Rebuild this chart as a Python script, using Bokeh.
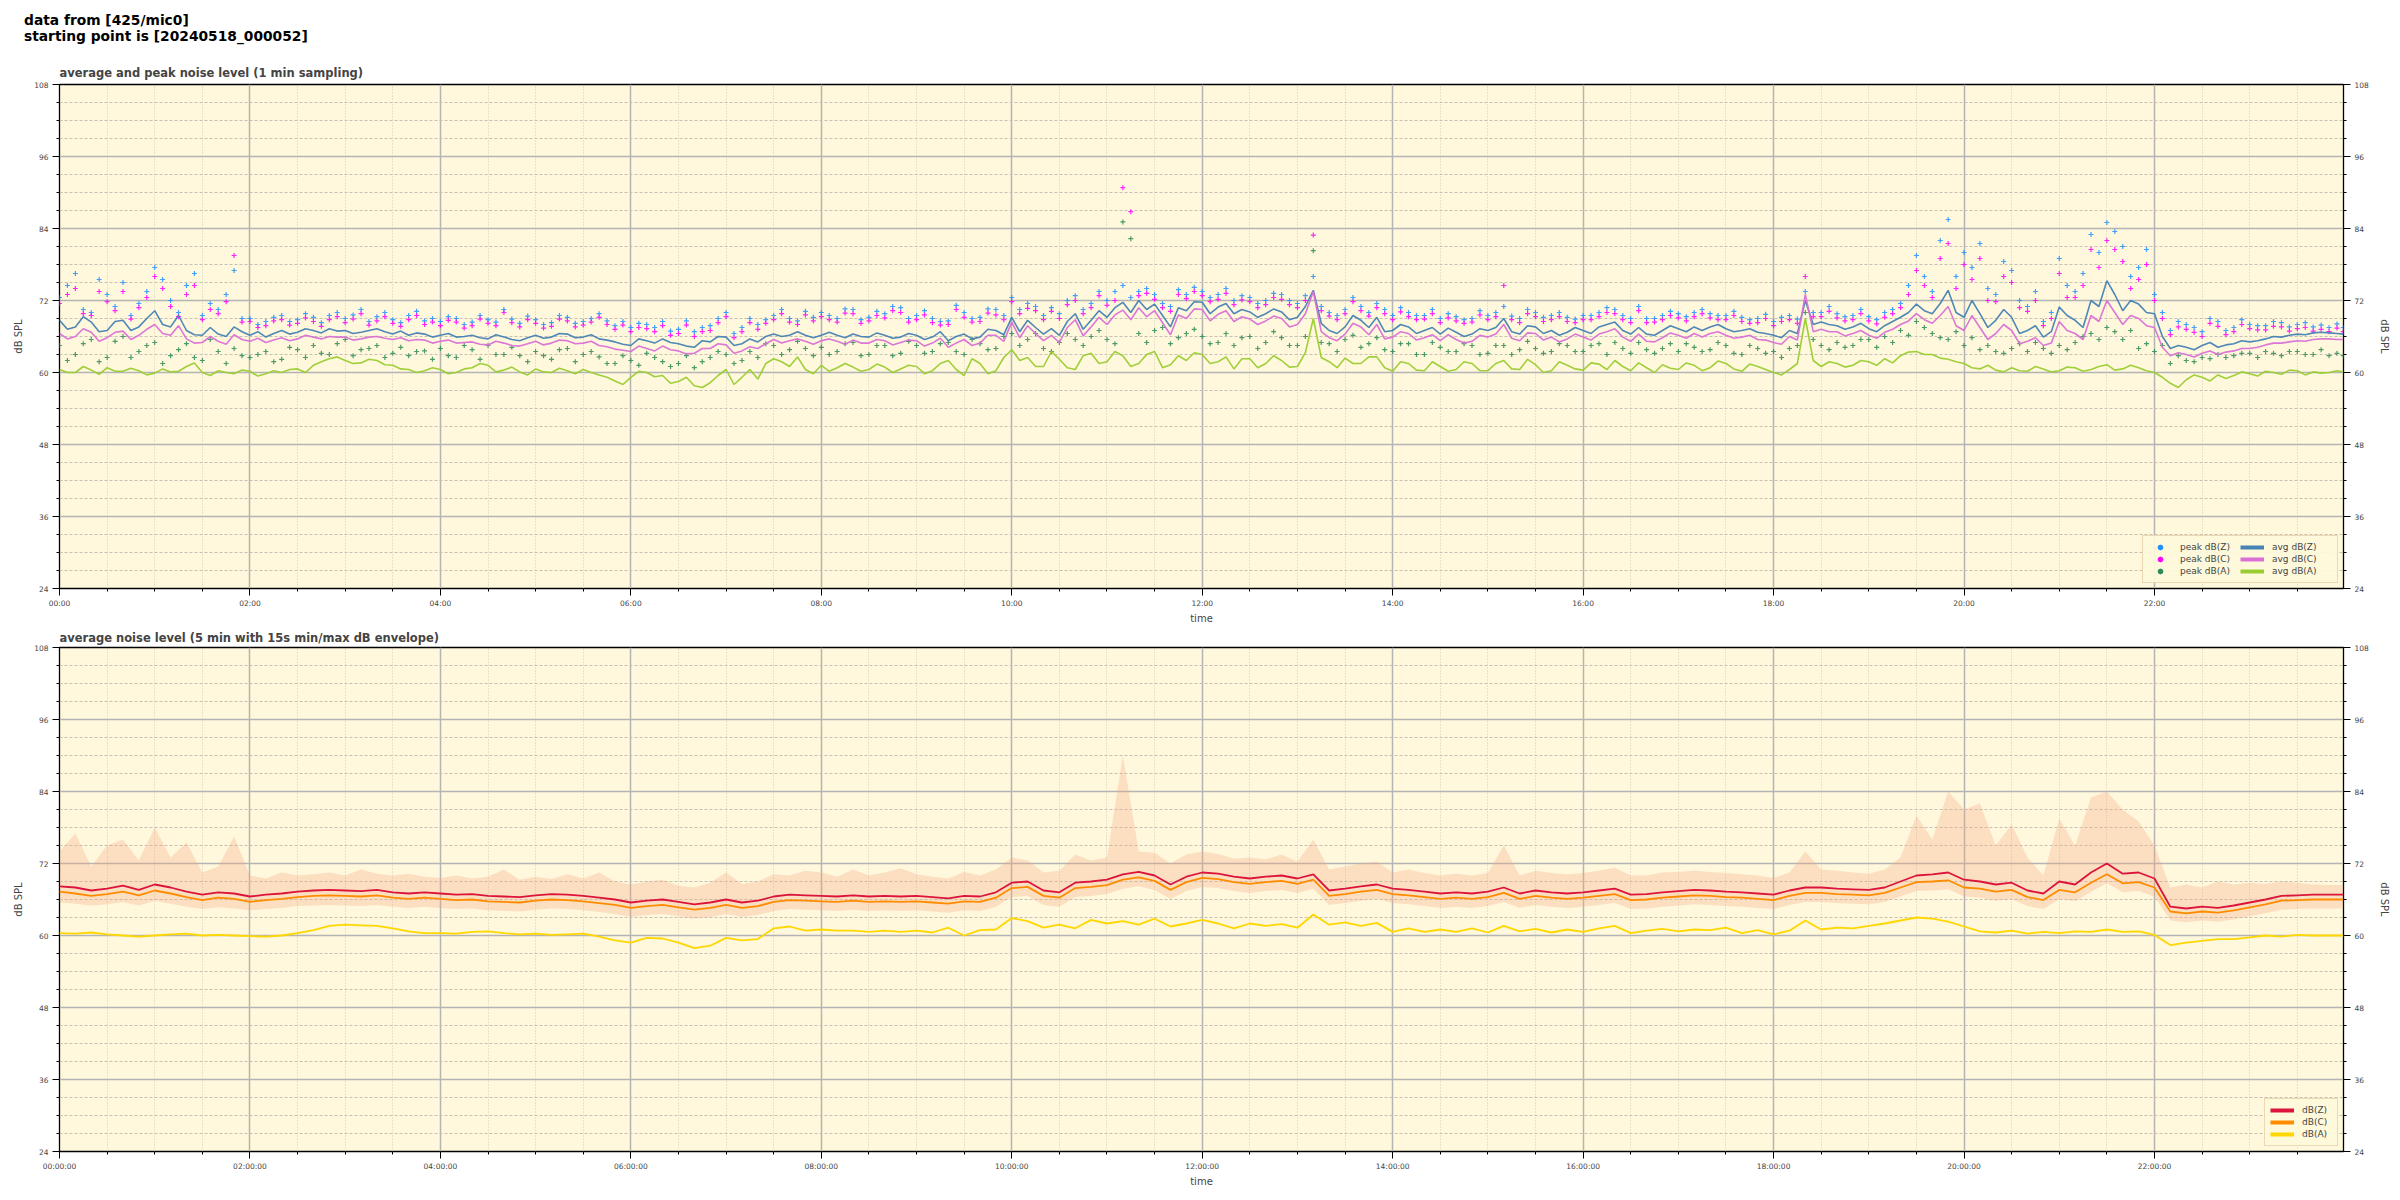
from bokeh.plotting import figure
from bokeh.layouts import column
from bokeh.models import (Range1d, FixedTicker, LinearAxis, Legend, LegendItem, Div)
from bokeh.embed import file_html
from bokeh.resources import INLINE

# ---- time base (minutes after 00:00): readings on the 10-min marks and on the 5-min offsets ----
minutes = list(range(0, 1440, 10)) + [1439]
mid_minutes = list(range(5, 1440, 10))
hours = [m / 60.0 for m in minutes]
mid_hours = [m / 60.0 for m in mid_minutes]

# ---- top panel: 1 min sampling (values read at the 10-min marks) ----
avg_z = [68.7, 67.6, 68.4, 67.0, 68.7, 67.6,
         70.3, 67.6, 67.0, 66.2, 66.4, 67.6,
         66.2, 65.9, 67.0, 66.7, 67.0, 67.3,
         67.0, 66.7, 67.3, 66.4, 66.2, 66.4,
         66.2, 65.9, 66.2, 65.6, 65.9, 65.3,
         66.2, 65.9, 66.4, 65.9, 65.6, 65.1,
         64.5, 65.3, 65.6, 64.8, 64.2, 65.1,
         65.9, 64.8, 65.1, 66.4, 66.2, 66.2,
         66.2, 66.2, 66.4, 65.9, 66.2, 65.9,
         66.2, 65.9, 65.3, 66.4, 65.9, 67.0,
         69.2, 68.7, 66.4, 66.2, 69.8, 68.7,
         69.2, 71.7, 72.0, 71.4, 67.6, 70.3,
         71.7, 70.9, 69.8, 70.1, 69.8, 70.1,
         69.2, 73.7, 67.0, 67.6, 68.7, 69.2,
         67.0, 67.6, 67.0, 66.4, 66.7, 66.4,
         67.0, 69.0, 66.4, 67.6, 67.0, 66.7,
         67.0, 67.6, 68.4, 66.4, 66.4, 67.0,
         67.3, 67.6, 67.6, 67.3, 67.0, 66.7,
         66.2, 67.0, 72.0, 68.4, 67.8, 67.6,
         67.3, 67.8, 69.2, 71.4, 69.8, 73.7,
         69.2, 69.8, 68.7, 69.2, 67.0, 65.9,
         70.9, 68.7, 72.0, 75.3, 70.3, 71.4,
         69.8, 64.0, 64.2, 64.5, 64.2, 64.8,
         65.1, 65.6, 65.9, 66.4, 66.6, 66.6,
         66.4]

avg_c = [66.5, 66.0, 66.7, 65.8, 66.9, 66.2,
         68.0, 66.2, 65.6, 65.0, 65.2, 66.3,
         65.2, 65.0, 65.8, 65.6, 65.9, 66.0,
         65.9, 65.6, 66.0, 65.5, 65.3, 65.4,
         65.2, 64.9, 65.1, 64.6, 64.9, 64.4,
         65.2, 64.9, 65.3, 64.9, 64.5, 63.9,
         63.5, 64.0, 64.4, 63.6, 63.2, 64.0,
         64.6, 63.6, 64.0, 65.5, 65.3, 65.2,
         65.3, 65.2, 65.4, 64.9, 65.3, 65.0,
         65.3, 64.9, 64.2, 65.5, 64.9, 66.2,
         68.4, 67.8, 65.3, 65.0, 68.8, 67.6,
         68.0, 70.4, 70.8, 70.3, 66.3, 69.0,
         70.5, 69.7, 68.5, 68.9, 68.6, 69.0,
         68.0, 73.5, 65.8, 66.4, 67.6, 68.0,
         65.9, 66.5, 65.8, 65.3, 65.5, 65.2,
         65.9, 68.0, 65.3, 66.5, 65.9, 65.6,
         65.9, 66.4, 67.3, 65.2, 65.2, 65.8,
         66.2, 66.5, 66.5, 66.2, 65.9, 65.5,
         65.0, 66.0, 73.0, 67.2, 66.8, 66.5,
         66.2, 66.7, 68.0, 69.8, 68.2, 71.0,
         67.0, 67.5, 66.5, 67.0, 65.2, 64.5,
         68.5, 66.5, 69.5, 72.0, 68.0, 69.0,
         67.5, 62.8, 63.0, 63.2, 63.0, 63.6,
         64.0, 64.6, 64.9, 65.3, 65.5, 65.6,
         65.5]

avg_a = [60.5, 60.0, 60.4, 60.8, 60.2, 60.3,
         59.9, 60.1, 61.0, 60.0, 60.3, 59.8,
         60.2, 59.8, 60.0, 60.6, 61.2, 62.3,
         62.0, 61.6, 62.0, 61.2, 60.5, 60.3,
         60.5, 60.0, 60.8, 61.2, 60.4, 60.1,
         60.6, 60.0, 60.3, 60.5, 59.6, 58.6,
         59.2, 60.0, 59.5, 58.5, 57.8, 58.3,
         60.5, 59.2, 58.9, 62.3, 61.0, 60.5,
         61.2, 60.8, 60.9, 60.5, 60.9, 60.6,
         61.0, 60.3, 62.0, 59.5, 61.5, 60.3,
         63.8, 62.5, 61.0, 62.2, 60.5, 63.2,
         61.8, 62.8, 61.5, 63.5, 61.3, 62.0,
         63.0, 61.8, 60.6, 62.3, 61.5, 62.0,
         61.0, 69.0, 61.8, 62.4, 61.5, 62.6,
         60.2, 61.5, 60.3, 61.0, 60.5, 61.5,
         60.3, 62.0, 60.5, 61.3, 60.3, 61.2,
         60.4, 61.4, 62.0, 60.3, 60.8, 61.3,
         60.5, 61.2, 60.8, 61.5, 60.2, 61.0,
         60.0, 60.5, 69.0, 61.0, 61.5, 61.2,
         61.8, 62.3, 62.8, 63.5, 63.0, 62.2,
         61.5, 60.6, 60.4, 60.8, 60.2, 60.6,
         60.3, 60.8, 60.5, 61.3, 60.6, 60.8,
         60.0, 58.2, 58.8, 59.2, 59.6, 59.5,
         59.8, 60.2, 59.7, 60.3, 60.1, 60.0,
         60.1]

peak_z = [72.5, 76.5, 70.0, 73.0, 75.0, 71.5,
          77.5, 72.0, 74.5, 69.5, 70.5, 77.0,
          69.0, 68.5, 69.5, 68.8, 69.2, 69.5,
          69.0, 70.5, 69.3, 68.8, 69.5, 68.6,
          68.5, 69.0, 68.4, 68.8, 70.5, 68.2,
          68.8, 68.3, 69.2, 68.5, 69.8, 67.8,
          67.5, 68.0, 68.5, 67.2, 66.8, 67.8,
          70.0, 67.5, 68.0, 69.5, 69.0, 70.2,
          70.0, 69.0, 70.5, 69.2, 69.8, 70.8,
          69.5, 69.0, 68.6, 70.0, 69.2, 70.5,
          72.5, 71.5, 69.5, 69.8, 72.8, 71.5,
          72.0, 74.5, 73.5, 73.0, 71.0, 73.0,
          73.5, 73.0, 72.0, 72.5, 72.0, 73.0,
          71.5, 76.0, 70.0, 70.5, 71.0, 71.5,
          69.5, 70.0, 69.5, 69.0, 69.3, 69.0,
          69.5, 71.0, 69.0, 70.0, 69.5, 69.2,
          69.5, 70.0, 70.5, 69.0, 69.0, 69.5,
          69.8, 70.0, 69.8, 69.5, 69.2, 69.0,
          68.5, 69.5, 73.5, 70.0, 69.8, 69.5,
          69.3, 70.0, 71.5, 79.5, 73.5, 85.5,
          80.0, 81.5, 73.0, 77.0, 71.0, 68.5,
          79.0, 73.5, 83.0, 85.0, 81.0, 77.5,
          73.0, 67.0, 68.0, 66.8, 68.5, 67.5,
          68.0, 67.8, 68.3, 68.0, 67.6, 67.5,
          67.5]

peak_c = [71.5, 74.0, 69.5, 71.8, 73.5, 70.8,
          76.0, 71.0, 73.0, 68.8, 69.8, 79.5,
          68.5, 67.8, 68.8, 68.2, 68.5, 68.8,
          68.3, 69.8, 68.6, 68.2, 68.8, 68.0,
          67.8, 68.4, 67.8, 68.2, 70.0, 67.6,
          68.2, 67.7, 68.6, 67.9, 69.2, 67.2,
          66.8, 67.3, 67.8, 66.5, 66.0, 67.0,
          69.3, 66.8, 67.2, 68.8, 68.4, 69.6,
          69.3, 68.4, 69.8, 68.6, 69.1, 70.0,
          68.8, 68.3, 68.0, 69.2, 68.5, 69.6,
          71.8, 70.7, 68.8, 69.0, 72.0, 70.8,
          71.2, 90.8, 72.8, 72.2, 70.2, 72.3,
          72.8, 72.2, 71.3, 71.8, 71.3, 72.2,
          70.8, 82.9, 69.4, 69.8, 70.3, 70.8,
          68.8, 69.3, 68.9, 68.3, 68.6, 68.4,
          68.8, 74.5, 68.3, 69.3, 68.8, 68.5,
          68.8, 69.3, 69.8, 68.3, 68.3, 68.8,
          69.1, 69.3, 69.1, 68.8, 68.5, 68.3,
          67.8, 68.8, 76.0, 69.3, 69.1, 68.8,
          68.6, 69.2, 70.8, 77.0, 72.5, 81.5,
          78.0, 79.0, 71.8, 75.0, 70.2, 67.8,
          76.5, 72.5, 80.5, 82.0, 78.5, 75.5,
          72.0, 66.3, 67.2, 66.0, 67.7, 66.8,
          67.3, 67.1, 67.6, 67.3, 66.9, 66.8,
          66.8]

peak_a = [64.5, 63.0, 65.5, 62.5, 66.0, 63.5,
          65.0, 62.8, 64.8, 62.0, 63.5, 64.0,
          62.5, 63.5, 62.2, 63.8, 64.5, 63.0,
          65.5, 63.8, 64.5, 63.2, 62.8, 63.6,
          64.0, 62.5, 63.8, 64.5, 63.0, 62.8,
          63.5, 62.2, 64.0, 63.0, 62.6, 61.5,
          62.0, 63.2, 61.8, 61.5, 60.8, 62.5,
          63.0, 62.0, 62.5, 64.5, 63.8, 64.0,
          64.2, 63.5, 65.0, 63.0, 64.5, 63.2,
          64.5, 63.5, 65.0, 63.0, 64.8, 64.0,
          66.5, 65.5, 64.0, 65.0, 65.5, 66.0,
          65.5, 85.1, 66.5, 67.0, 64.8, 66.5,
          66.0, 65.0, 64.5, 66.0, 65.0, 65.8,
          64.5, 80.3, 64.8, 65.5, 64.2, 65.8,
          63.5, 64.8, 63.0, 64.2, 63.5, 64.5,
          63.2, 64.5, 63.8, 64.0, 63.5, 64.5,
          63.5, 64.8, 65.0, 63.2, 63.8, 64.0,
          63.5, 64.2, 63.8, 64.5, 63.0, 64.0,
          63.5, 64.0, 70.0, 64.5, 65.0, 64.5,
          65.5, 66.0, 67.0, 68.5, 66.5, 65.5,
          64.5, 63.8, 63.5, 64.0, 63.5, 64.0,
          64.5, 65.0, 66.5, 67.5, 65.5, 64.0,
          63.5, 61.5, 62.0, 62.5, 63.0, 62.8,
          63.2, 63.5, 62.8, 63.5, 63.0, 62.8,
          62.8]

# ---- top panel: values read at the 5-min offsets ----
avg_z_mid = [67.2, 69.3, 66.8, 68.5, 67.0, 69.0,
             68.0, 69.5, 66.3, 67.5, 66.0, 66.8,
             66.8, 66.5, 66.4, 67.3, 66.6, 66.9,
             66.5, 67.0, 66.8, 66.9, 66.6, 65.9,
             66.5, 66.0, 65.8, 66.3, 65.5, 65.8,
             65.7, 66.5, 65.8, 66.3, 65.4, 64.7,
             65.6, 64.9, 65.0, 64.4, 65.3, 66.0,
             64.5, 65.6, 66.0, 66.0, 66.8, 65.8,
             66.7, 65.8, 66.0, 66.6, 65.7, 66.5,
             65.5, 66.8, 66.0, 65.6, 67.2, 66.3,
             66.8, 67.5, 67.3, 68.5, 67.2, 70.3,
             70.8, 70.0, 70.5, 69.5, 70.8, 71.8,
             69.8, 71.5, 70.5, 69.2, 70.6, 68.8,
             71.0, 68.2, 66.5, 69.5, 67.5, 66.8,
             68.0, 66.5, 67.5, 67.4, 66.0, 67.3,
             67.5, 66.8, 67.8, 66.5, 66.2, 67.5,
             66.5, 68.0, 67.0, 67.5, 66.2, 67.8,
             66.8, 67.0, 68.0, 66.8, 67.3, 66.5,
             65.8, 66.5, 68.0, 68.0, 67.2, 68.2,
             66.8, 68.5, 70.0, 70.3, 71.5, 70.0,
             72.0, 67.5, 70.5, 66.5, 67.8, 66.8,
             69.5, 67.5, 71.0, 73.0, 72.0, 70.0,
             66.0, 64.5, 63.8, 65.0, 64.6, 65.3,
             65.3, 66.0, 66.2, 66.3, 66.7, 66.5]

avg_c_mid = [65.6, 67.3, 65.2, 66.7, 65.5, 67.2,
             66.5, 67.8, 64.9, 66.0, 64.7, 65.5,
             65.7, 65.4, 65.3, 66.2, 65.6, 65.9,
             65.4, 65.9, 65.7, 65.8, 65.5, 64.9,
             65.4, 65.0, 64.7, 65.2, 64.5, 64.8,
             64.6, 65.4, 64.8, 65.2, 64.3, 63.7,
             64.4, 63.6, 63.8, 63.1, 64.0, 64.8,
             63.2, 64.3, 64.8, 64.9, 65.6, 64.7,
             65.6, 64.7, 64.9, 65.5, 64.6, 65.4,
             64.4, 65.7, 64.9, 64.5, 66.2, 65.2,
             65.8, 66.5, 66.2, 67.5, 66.1, 69.2,
             69.6, 68.8, 69.3, 68.3, 69.6, 70.6,
             68.6, 70.3, 69.3, 68.0, 69.4, 67.6,
             69.8, 66.8, 65.3, 68.2, 66.3, 65.6,
             66.8, 65.4, 66.3, 66.3, 64.9, 66.2,
             66.4, 65.7, 66.6, 65.4, 65.1, 66.4,
             65.4, 66.8, 65.9, 66.4, 65.1, 66.6,
             65.7, 65.9, 66.8, 65.7, 66.2, 65.4,
             64.7, 65.4, 66.8, 66.8, 66.1, 67.0,
             65.7, 67.2, 68.6, 68.8, 69.5, 67.8,
             69.5, 65.5, 68.0, 64.8, 65.8, 64.9,
             67.0, 65.5, 68.5, 70.0, 69.5, 67.8,
             64.2, 63.3, 62.6, 63.6, 63.4, 64.0,
             64.2, 64.9, 65.1, 65.2, 65.6, 65.5]

avg_a_mid = [60.0, 61.0, 59.7, 60.2, 60.7, 59.6,
             60.6, 60.2, 61.6, 59.5, 60.0, 60.4,
             59.4, 60.3, 60.5, 60.0, 61.8, 62.6,
             61.5, 62.2, 61.3, 60.6, 60.0, 60.8,
             59.8, 60.6, 61.5, 60.1, 60.9, 59.6,
             60.1, 60.7, 59.8, 60.0, 59.2, 58.0,
             60.2, 59.3, 58.2, 59.2, 57.5, 59.5,
             58.0, 60.5, 61.5, 61.8, 62.6, 59.8,
             60.2, 61.5, 60.2, 61.4, 60.0, 61.2,
             59.8, 61.5, 60.5, 62.3, 59.8, 62.5,
             62.0, 61.0, 63.5, 60.8, 62.8, 61.5,
             63.5, 61.0, 63.0, 60.8, 62.8, 63.3,
             61.5, 62.6, 62.3, 60.8, 62.8, 60.9,
             63.3, 62.5, 60.8, 61.5, 62.6, 60.8,
             61.8, 60.4, 61.8, 60.2, 61.8, 60.3,
             61.5, 60.6, 62.2, 60.0, 61.8, 60.6,
             61.6, 60.5, 61.0, 61.6, 60.0, 60.7,
             61.6, 60.3, 61.9, 60.6, 61.4, 60.5,
             59.6, 61.5, 62.0, 61.8, 60.9, 62.0,
             61.2, 61.6, 63.4, 63.0, 62.4, 61.8,
             60.8, 61.2, 60.1, 60.3, 61.0, 60.1,
             60.9, 60.2, 61.0, 60.4, 61.2, 60.3,
             59.2, 57.5, 59.6, 58.6, 59.0, 60.1,
             59.4, 60.0, 60.4, 59.6, 59.9, 60.3]

peak_z_mid = [74.5, 70.5, 75.5, 71.0, 69.5, 73.5,
              75.5, 70.0, 76.5, 71.5, 73.0, 69.0,
              68.0, 69.2, 68.5, 69.8, 68.3, 70.0,
              69.6, 68.5, 70.0, 68.3, 70.2, 69.0,
              69.3, 68.0, 69.5, 68.4, 68.9, 69.4,
              68.0, 69.5, 68.2, 69.0, 68.6, 68.5,
              68.2, 67.5, 66.9, 68.6, 67.5, 69.0,
              66.5, 69.0, 68.8, 70.5, 68.6, 69.2,
              69.5, 70.6, 68.8, 70.2, 71.0, 69.0,
              70.3, 68.5, 71.2, 69.0, 70.6, 69.5,
              70.5, 71.0, 70.8, 72.0, 70.5, 73.5,
              73.5, 72.5, 74.0, 71.5, 73.8, 74.2,
              72.5, 74.0, 72.8, 71.5, 73.2, 72.0,
              72.8, 71.0, 69.5, 72.5, 70.0, 70.5,
              70.8, 69.5, 70.5, 69.8, 68.8, 70.3,
              70.0, 69.4, 70.5, 69.2, 70.0, 68.9,
              69.5, 70.8, 69.5, 71.0, 69.0, 70.2,
              69.3, 70.5, 69.5, 70.2, 68.8, 69.7,
              69.2, 68.9, 70.0, 71.0, 69.3, 70.5,
              68.8, 70.5, 74.5, 76.0, 82.0, 76.0,
              77.5, 74.0, 78.5, 72.0, 73.5, 70.0,
              74.5, 76.5, 80.0, 83.5, 76.0, 80.5,
              70.0, 68.5, 67.5, 69.0, 67.0, 68.8,
              67.8, 68.5, 67.6, 68.3, 67.9, 68.1]

peak_c_mid = [73.0, 69.8, 73.5, 70.3, 68.9, 72.5,
              74.0, 69.3, 74.5, 70.5, 71.8, 68.4,
              67.5, 68.6, 67.9, 69.1, 67.7, 69.3,
              68.9, 67.9, 69.3, 67.7, 69.5, 68.4,
              68.7, 67.4, 68.9, 67.8, 68.3, 68.8,
              67.4, 68.9, 67.6, 68.4, 68.0, 67.9,
              67.5, 66.8, 66.2, 67.9, 66.8, 68.3,
              65.8, 68.3, 68.2, 69.8, 68.0, 68.6,
              68.8, 69.9, 68.2, 69.5, 70.3, 68.4,
              69.6, 67.9, 70.5, 68.4, 69.9, 68.8,
              69.8, 70.3, 70.2, 71.3, 69.8, 72.8,
              72.0, 86.8, 73.2, 70.8, 73.0, 73.5,
              71.8, 73.2, 72.1, 70.8, 72.5, 71.3,
              72.0, 70.3, 68.8, 71.8, 69.4, 69.8,
              70.1, 68.8, 69.8, 69.1, 68.2, 69.6,
              69.3, 68.8, 69.8, 68.5, 69.3, 68.3,
              68.8, 70.0, 68.8, 70.3, 68.4, 69.5,
              68.6, 69.8, 68.8, 69.5, 68.2, 69.0,
              68.5, 68.2, 69.3, 70.2, 68.6, 69.8,
              68.1, 69.8, 73.0, 74.5, 79.0, 74.0,
              75.5, 72.0, 76.0, 70.8, 72.0, 69.0,
              72.5, 74.5, 77.5, 80.5, 74.0, 78.0,
              69.0, 67.6, 66.7, 68.2, 66.3, 68.0,
              67.1, 67.7, 66.9, 67.5, 67.2, 67.4]

peak_a_mid = [62.0, 64.8, 61.8, 65.2, 62.5, 64.5,
              61.5, 63.8, 62.5, 65.5, 61.5, 62.8,
              63.0, 61.8, 64.2, 62.5, 63.2, 64.8,
              62.8, 64.0, 62.5, 64.2, 63.5, 62.2,
              62.8, 64.5, 62.2, 63.0, 64.2, 61.8,
              62.8, 63.8, 61.8, 63.5, 61.5, 62.8,
              61.2, 62.5, 61.0, 62.8, 61.8, 63.5,
              61.5, 63.5, 64.8, 63.0, 65.2, 62.8,
              63.0, 64.8, 62.8, 64.5, 62.8, 65.2,
              63.2, 64.8, 63.5, 65.5, 63.8, 66.0,
              64.5, 66.5, 63.5, 66.5, 64.5, 67.0,
              64.8, 82.3, 65.0, 67.5, 65.8, 67.2,
              64.8, 66.5, 65.8, 64.0, 66.8, 64.5,
              66.0, 65.0, 63.5, 66.2, 64.8, 63.8,
              64.8, 63.0, 65.0, 63.5, 64.8, 63.0,
              64.5, 63.0, 65.2, 63.2, 64.8, 63.5,
              64.5, 63.0, 64.0, 65.0, 63.2, 64.8,
              64.8, 63.5, 65.0, 63.2, 64.5, 63.2,
              62.5, 64.5, 65.5, 63.8, 64.2, 65.5,
              64.2, 65.0, 66.2, 67.5, 65.8, 66.8,
              65.8, 64.5, 63.2, 64.8, 65.0, 63.2,
              63.8, 66.0, 65.5, 66.8, 67.0, 64.8,
              64.5, 62.8, 61.8, 62.3, 62.5, 63.2,
              62.5, 63.2, 63.5, 63.0, 63.8, 63.2]

# ---- bottom panel: 5 min averages (read every 10 min) ----
b_z = [68.2, 68.0, 67.5, 67.8, 68.3, 67.6,
       68.5, 68.0, 67.3, 66.8, 67.2, 67.0,
       66.5, 66.8, 67.0, 67.3, 67.5, 67.6,
       67.5, 67.4, 67.6, 67.2, 67.0, 67.2,
       67.0, 66.8, 66.9, 66.6, 66.5, 66.4,
       66.7, 66.9, 66.8, 66.6, 66.3, 66.0,
       65.5, 65.8, 66.0, 65.6, 65.2, 65.5,
       66.0, 65.5, 65.8, 66.5, 66.8, 66.7,
       66.6, 66.5, 66.7, 66.5, 66.6, 66.5,
       66.6, 66.4, 66.2, 66.6, 66.5, 67.2,
       68.8, 69.0, 67.5, 67.2, 68.8, 69.0,
       69.3, 70.2, 70.6, 70.0, 68.5, 69.8,
       70.5, 70.3, 69.8, 69.5, 69.8, 70.0,
       69.5, 70.2, 67.5, 67.8, 68.2, 68.5,
       67.8, 67.6, 67.3, 67.0, 67.2, 67.0,
       67.3, 68.0, 67.0, 67.5, 67.2, 67.0,
       67.2, 67.5, 67.8, 66.8, 66.9, 67.2,
       67.4, 67.6, 67.5, 67.3, 67.2, 67.0,
       66.8, 67.5, 68.0, 68.0, 67.8, 67.7,
       67.6, 68.0, 69.0, 70.0, 70.2, 70.5,
       69.3, 69.0, 68.5, 68.8, 67.5, 67.0,
       69.0, 68.5, 70.5, 72.0, 70.3, 70.5,
       69.5, 64.8, 64.5, 64.8, 64.6, 65.0,
       65.5, 66.0, 66.6, 66.7, 66.8, 66.8,
       66.8]

b_c = [67.3, 67.0, 66.6, 66.9, 67.3, 66.7,
       67.5, 67.0, 66.4, 65.9, 66.3, 66.1,
       65.6, 65.9, 66.1, 66.4, 66.6, 66.7,
       66.6, 66.5, 66.7, 66.3, 66.1, 66.3,
       66.1, 65.9, 66.0, 65.7, 65.6, 65.5,
       65.8, 66.0, 65.9, 65.7, 65.4, 65.1,
       64.6, 64.9, 65.1, 64.7, 64.3, 64.6,
       65.1, 64.6, 64.9, 65.6, 65.9, 65.8,
       65.7, 65.6, 65.8, 65.6, 65.7, 65.6,
       65.7, 65.5, 65.3, 65.7, 65.6, 66.3,
       67.9, 68.1, 66.6, 66.3, 67.9, 68.1,
       68.4, 69.3, 69.7, 69.1, 67.6, 68.9,
       69.6, 69.4, 68.9, 68.6, 68.9, 69.1,
       68.6, 69.3, 66.6, 66.9, 67.3, 67.6,
       66.9, 66.7, 66.4, 66.1, 66.3, 66.1,
       66.4, 67.1, 66.1, 66.6, 66.3, 66.1,
       66.3, 66.6, 66.9, 65.9, 66.0, 66.3,
       66.5, 66.7, 66.6, 66.4, 66.3, 66.1,
       65.9, 66.6, 67.1, 67.1, 66.9, 66.8,
       66.7, 67.1, 68.0, 68.9, 69.0, 69.2,
       68.0, 67.8, 67.3, 67.6, 66.4, 65.9,
       67.6, 67.2, 68.8, 70.2, 68.7, 68.9,
       68.0, 64.0, 63.7, 64.0, 63.8, 64.2,
       64.7, 65.2, 65.8, 65.9, 66.0, 66.0,
       66.0]

b_a = [60.4, 60.3, 60.5, 60.2, 60.0, 59.8,
       60.0, 60.2, 60.3, 60.0, 60.1, 60.0,
       59.9, 59.8, 60.0, 60.4, 60.9, 61.6,
       61.8, 61.7, 61.6, 61.2, 60.7, 60.4,
       60.4, 60.3, 60.6, 60.7, 60.4, 60.2,
       60.3, 60.1, 60.2, 60.3, 59.8, 59.2,
       58.8, 59.6, 59.5, 58.8, 57.9, 58.3,
       59.6, 59.2, 59.4, 61.2, 61.5, 60.8,
       61.0, 60.8, 60.8, 60.6, 60.8, 60.6,
       60.8, 60.5, 61.3, 60.0, 60.9, 61.0,
       62.9, 62.4, 61.3, 61.8, 61.2, 62.6,
       62.0, 62.4, 61.8, 62.8, 61.5, 62.0,
       62.6, 62.0, 61.2, 62.0, 61.6, 61.9,
       61.3, 63.5, 61.8, 62.2, 61.6, 62.1,
       60.6, 61.2, 60.6, 61.0, 60.6, 61.2,
       60.5, 61.6, 60.7, 61.1, 60.5, 61.0,
       60.6, 61.2, 61.6, 60.4, 60.8, 61.1,
       60.7, 61.0, 60.9, 61.3, 60.4, 60.9,
       60.2, 60.8, 62.5, 61.0, 61.3, 61.2,
       61.6, 62.0, 62.5, 63.0, 62.8, 62.3,
       61.5, 60.7, 60.5, 60.8, 60.3, 60.6,
       60.4, 60.7, 60.6, 61.0, 60.6, 60.7,
       60.1, 58.4, 58.8, 59.1, 59.4, 59.4,
       59.7, 60.0, 59.8, 60.1, 60.0, 60.0,
       60.0]

env_hi = [74.0, 77.0, 71.5, 75.0, 76.0, 72.5,
          78.0, 73.0, 75.5, 70.5, 71.5, 76.5,
          70.0, 69.5, 70.5, 70.0, 70.2, 70.5,
          70.0, 71.0, 70.3, 70.0, 70.3, 69.8,
          69.6, 70.0, 69.5, 69.8, 71.0, 69.3,
          69.8, 69.4, 70.2, 69.5, 70.5, 69.0,
          68.5, 69.0, 69.3, 68.3, 68.0, 68.8,
          70.5, 68.6, 69.0, 70.2, 70.0, 70.8,
          70.5, 69.8, 71.0, 70.0, 70.5, 71.2,
          70.2, 69.8, 69.5, 70.6, 70.0, 71.0,
          73.0, 72.5, 70.5, 70.8, 73.5, 72.5,
          73.0, 90.0, 74.0, 73.8, 72.0, 73.5,
          74.0, 73.6, 72.8, 73.0, 72.7, 73.5,
          72.3, 76.0, 71.0, 71.5, 72.0, 72.3,
          70.5, 71.0, 70.4, 70.0, 70.3, 70.0,
          70.4, 75.0, 70.0, 70.8, 70.4, 70.2,
          70.4, 70.8, 71.3, 70.0, 70.0, 70.5,
          70.6, 70.8, 70.6, 70.4, 70.2, 70.0,
          69.6, 70.5, 74.0, 71.0, 70.8, 70.5,
          70.3, 71.0, 73.0, 80.0, 76.0, 84.0,
          81.0, 82.0, 75.0, 78.5, 73.0, 70.0,
          79.5, 75.0, 83.0, 84.0, 81.0, 79.0,
          75.0, 68.0, 68.5, 68.0, 69.0, 68.5,
          68.8, 68.6, 69.0, 68.8, 68.5, 68.4,
          68.4]

env_lo = [65.5, 65.3, 65.0, 65.2, 65.6, 65.0,
          65.8, 65.3, 64.8, 64.4, 64.7, 64.5,
          64.2, 64.4, 64.6, 64.9, 65.0, 65.1,
          65.0, 64.9, 65.1, 64.8, 64.6, 64.8,
          64.6, 64.4, 64.5, 64.2, 64.1, 64.0,
          64.3, 64.5, 64.4, 64.2, 63.9, 63.6,
          63.1, 63.4, 63.6, 63.2, 62.8, 63.1,
          63.6, 63.1, 63.4, 64.1, 64.4, 64.3,
          64.2, 64.1, 64.3, 64.1, 64.2, 64.1,
          64.2, 64.0, 63.8, 64.2, 64.1, 64.8,
          66.4, 66.6, 65.1, 64.8, 66.4, 66.6,
          66.9, 67.8, 68.2, 67.6, 66.1, 67.4,
          68.1, 67.9, 67.4, 67.1, 67.4, 67.6,
          67.1, 67.8, 65.1, 65.4, 65.8, 66.1,
          65.4, 65.2, 64.9, 64.6, 64.8, 64.6,
          64.9, 65.6, 64.6, 65.1, 64.8, 64.6,
          64.8, 65.1, 65.4, 64.4, 64.5, 64.8,
          65.0, 65.2, 65.1, 64.9, 64.8, 64.6,
          64.4, 65.1, 65.6, 65.6, 65.4, 65.3,
          65.2, 65.6, 66.5, 67.4, 67.5, 67.7,
          66.5, 66.3, 65.8, 66.1, 64.9, 64.4,
          66.1, 65.7, 67.3, 68.7, 67.2, 67.4,
          66.5, 62.5, 62.2, 62.5, 62.3, 62.7,
          63.2, 63.7, 64.3, 64.4, 64.5, 64.5,
          64.5]

y_major = [24, 36, 48, 60, 72, 84, 96, 108]
y_minor = list(range(24, 109, 3))
x_major = [0, 2, 4, 6, 8, 10, 12, 14, 16, 18, 20, 22]
x_minor = [h / 2 for h in range(0, 48)]
top_labels = ["%02d:00" % h for h in x_major]
bot_labels = ["%02d:00:00" % h for h in x_major]

FONT = "DejaVu Sans"
BG = "#fff8dc"
NAN = float("nan")


def merged(on_mark, on_offset):
    """Put the 10-min-mark readings and the 5-min-offset readings in time order."""
    xs, ys = [], []
    for i in range(len(on_mark)):
        xs.append(hours[i]); ys.append(on_mark[i])
        if i < len(on_offset):
            xs.append(mid_hours[i]); ys.append(on_offset[i])
    return xs, ys


def make_fig(title, border_top, border_bottom, xlabels, title_standoff):
    p = figure(frame_width=2284, frame_height=504, output_backend="svg",
               toolbar_location=None, x_range=Range1d(0, 23.985),
               y_range=Range1d(24, 108), title=title,
               min_border_left=59, min_border_right=52,
               min_border_top=border_top, min_border_bottom=border_bottom,
               background_fill_color=BG, border_fill_color="white",
               outline_line_color="black", outline_line_width=1.3)
    p.title.text_font = FONT
    p.title.text_font_size = "11.5px"
    p.title.text_font_style = "bold"
    p.title.align = "left"
    p.title.standoff = title_standoff
    p.add_layout(LinearAxis(), "right")
    for ax in p.yaxis:
        ax.ticker = FixedTicker(ticks=y_major, minor_ticks=y_minor)
        ax.axis_label = "dB SPL"
    for ax in p.axis:
        ax.axis_line_color = None
        ax.major_tick_out = 7
        ax.major_tick_in = 0
        ax.minor_tick_out = 3
        ax.minor_tick_in = 0
        ax.major_tick_line_color = "black"
        ax.minor_tick_line_color = "black"
        ax.major_label_text_font = FONT
        ax.major_label_text_font_size = "7.5px"
        ax.major_label_standoff = 4
        ax.axis_label_text_font = FONT
        ax.axis_label_text_font_size = "10px"
        ax.axis_label_text_font_style = "normal"
        ax.axis_label_standoff = 7
    xa = p.xaxis[0]
    xa.ticker = FixedTicker(ticks=x_major, minor_ticks=x_minor)
    xa.major_label_overrides = {x: s for x, s in zip(x_major, xlabels)}
    xa.axis_label = "time"
    xa.major_label_standoff = 3
    xa.axis_label_standoff = 2
    p.ygrid.ticker = FixedTicker(ticks=y_major, minor_ticks=y_minor)
    p.xgrid.ticker = FixedTicker(ticks=x_major, minor_ticks=x_minor)
    p.ygrid.grid_line_color = "#b4b4b4"
    p.ygrid.grid_line_width = 1.5
    p.ygrid.minor_grid_line_color = "#c4c0b4"
    p.ygrid.minor_grid_line_dash = "3 2"
    p.ygrid.minor_grid_line_width = 1
    p.xgrid.grid_line_color = "#b4b4b4"
    p.xgrid.grid_line_width = 1.5
    p.xgrid.minor_grid_line_color = "#d2cbb4"
    p.xgrid.minor_grid_line_dash = "1 2"
    p.xgrid.minor_grid_line_width = 1
    return p


def make_legend(items, label_width):
    return Legend(items=items, location="bottom_right", orientation="vertical",
                  nrows=3, margin=5, padding=5, spacing=0, label_height=12,
                  label_width=label_width,
                  glyph_height=12, glyph_width=24, label_standoff=8,
                  label_text_font=FONT, label_text_font_size="9px",
                  background_fill_color=BG, background_fill_alpha=0.9,
                  border_line_color="#d9b98c", border_line_width=1.5)


# ---------------- top figure ----------------
p1 = make_fig("average and peak noise level (1 min sampling)", 28, 36, top_labels, 10)
peak_cols = ["#1e90ff", "#ff00ff", "#2e8b57"]
avg_cols = ["#4682b4", "#da70d6", "#9acd32"]
for a, b, col in zip([peak_z, peak_c, peak_a], [peak_z_mid, peak_c_mid, peak_a_mid], peak_cols):
    xs, ys = merged(a, b)
    p1.scatter(xs, ys, marker="cross", size=5, line_width=1.2,
               line_color=col, line_alpha=0.85)
for a, b, col in zip([avg_z, avg_c, avg_a], [avg_z_mid, avg_c_mid, avg_a_mid], avg_cols):
    xs, ys = merged(a, b)
    p1.line(xs, ys, line_color=col, line_width=1.6, line_alpha=0.95)

items = []
for lab, col in zip(["peak dB(Z)", "peak dB(C)", "peak dB(A)"], peak_cols):
    r = p1.scatter([NAN], [NAN], marker="circle", size=6, fill_color=col, line_color=col)
    items.append(LegendItem(label=lab, renderers=[r]))
for lab, col in zip(["avg dB(Z)", "avg dB(C)", "avg dB(A)"], avg_cols):
    r = p1.line([NAN], [NAN], line_color=col, line_width=4)
    items.append(LegendItem(label=lab, renderers=[r]))
p1.add_layout(make_legend(items, 60))

# ---------------- bottom figure ----------------
p2 = make_fig("average noise level (5 min with 15s min/max dB envelope)", 19, 42, bot_labels, 5)
p2.varea(x=hours, y1=env_lo, y2=env_hi, fill_color="#f4a582", fill_alpha=0.3)
bcols = ["#dc143c", "#ff8c00", "#ffd700"]
for ys, col in zip([b_z, b_c, b_a], bcols):
    p2.line(hours, ys, line_color=col, line_width=1.8)
items2 = []
for lab, col in zip(["dB(Z)", "dB(C)", "dB(A)"], bcols):
    r = p2.line([NAN], [NAN], line_color=col, line_width=4)
    items2.append(LegendItem(label=lab, renderers=[r]))
p2.add_layout(make_legend(items2, 30))

head = Div(text=('<div style="font-family:\'DejaVu Sans\';font-weight:bold;font-size:13.8px;'
                 'line-height:16px;padding-left:24px;padding-top:12px;">'
                 'data from [425/mic0]<br>starting point is [20240518_000052]</div>'),
           width=600, height=56, margin=(0, 0, 0, 0))

layout = column(head, p1, p2, spacing=0)
open("out.html", "w").write(file_html(layout, INLINE))
